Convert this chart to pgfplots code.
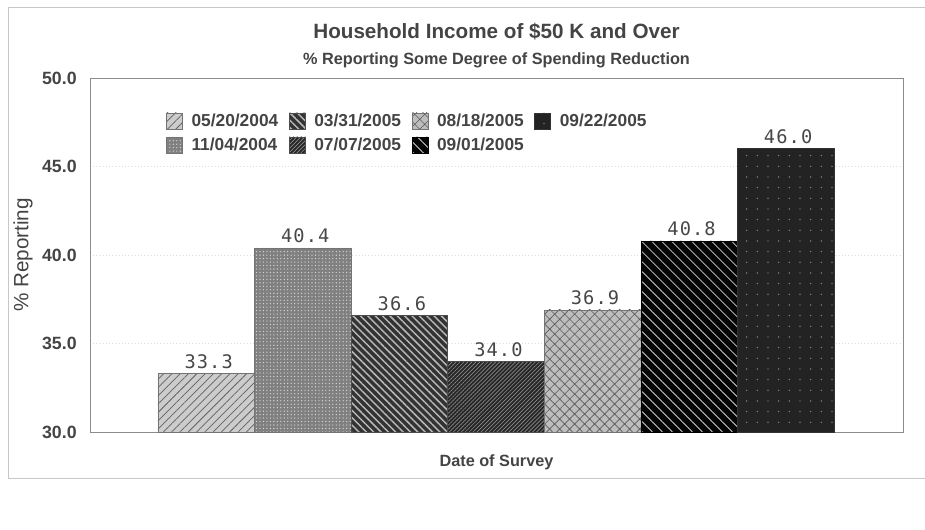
\documentclass[border=0pt]{standalone}
\usepackage{fontspec}
\setmainfont{Liberation Sans}
\newfontfamily\valfont[LetterSpace=6]{DejaVu Sans Mono}
\usepackage{pgfplots}
\pgfplotsset{compat=1.18}
\usetikzlibrary{patterns.meta}
\definecolor{txt}{HTML}{444444}
\definecolor{c1}{HTML}{CCCCCC}
\definecolor{c2}{HTML}{808080}
\definecolor{c3}{HTML}{333333}
\definecolor{c4}{HTML}{262626}
\definecolor{c5}{HTML}{BDBDBD}
\definecolor{c6}{HTML}{050505}
\definecolor{c7}{HTML}{232323}
\pgfplotsset{
  sqlegend/.style={legend image code/.code={\draw[##1] (0pt,-6pt) rectangle (12pt,6pt); \path (16.5pt,0pt);}},
  s1/.style={fill=c1, draw=black!55, line width=0.5pt, postaction={pattern={Lines[angle=45,distance=4.4pt,line width=0.55pt]}, pattern color=black!62}},
  s2/.style={fill=c2, draw=black!55, line width=0.5pt, postaction={pattern={Dots[distance=2.6pt,radius=0.5pt]}, pattern color=black!15}},
  s3/.style={fill=c3, draw=black!70, line width=0.5pt, postaction={pattern={Lines[angle=-45,distance=3.9pt,line width=1.1pt]}, pattern color=black!28}},
  s4/.style={fill=c4, draw=black!70, line width=0.5pt, postaction={pattern={Lines[angle=45,distance=2.1pt,line width=0.5pt]}, pattern color=black!45}},
  s5/.style={fill=c5, draw=black!55, line width=0.5pt, postaction={pattern={Hatch[angle=45,distance=5.3pt,line width=0.5pt]}, pattern color=black!65}},
  s6/.style={fill=c6, draw=black, line width=0.5pt, postaction={pattern={Lines[angle=-45,distance=5.3pt,line width=0.6pt]}, pattern color=black!20}},
  s7/.style={fill=c7, draw=black!80, line width=0.5pt, postaction={pattern={Dots[distance=8pt,radius=0.55pt]}, pattern color=black!40}},
}
\begin{document}
\begin{tikzpicture}
\useasboundingbox (0,0) rectangle (693.75pt,396.75pt);
\draw[black!22, line width=0.75pt] (700pt,390.75pt) -- (6pt,390.75pt) -- (6pt,38.25pt) -- (700pt,38.25pt);
\begin{axis}[
  at={(67.5pt,72.75pt)}, anchor=south west,
  width=609.75pt, height=265.5pt, scale only axis,
  xmin=-4.204, xmax=4.214, ymin=30, ymax=50,
  ytick={30,35,40,45,50}, xtick=\empty,
  ybar, bar width=1,
  clip=false,
  axis line style={black!45},
  ymajorgrids, grid style={dotted, black!13, line width=0.7pt},
  major tick length=0pt,
  yticklabel={\pgfmathprintnumber[fixed,fixed zerofill,precision=1,assume math mode=true]{\tick}},
  yticklabel style={font=\fontsize{13.3}{15}\selectfont\bfseries, text=txt, xshift=-6.5pt},
  ylabel={\% Reporting},
  ylabel style={at={(axis description cs:-0.0824,0.5)}, anchor=center, font=\fontsize{15.5}{18}\selectfont, text=txt},
  xlabel={Date of Survey},
  xlabel style={at={(axis description cs:0.5,-0.0847)}, anchor=center, font=\fontsize{12.2}{14}\selectfont\bfseries, text=txt},
  title={Household Income of \$50 K and Over},
  title style={at={(axis description cs:0.5,1.089)}, anchor=base, font=\fontsize{15.5}{18}\selectfont\bfseries, text=txt},
  nodes near coords={\pgfmathprintnumber[fixed,fixed zerofill,precision=1,assume math mode=true]{\pgfplotspointmeta}},
  nodes near coords style={font=\valfont\fontsize{14}{16}\selectfont, text=black!72, xshift=1.8pt},
  legend style={draw=none, fill=none, at={(axis description cs:0.0885,0.915)}, anchor=north west,
    font=\fontsize{13}{15}\selectfont\bfseries, text=txt,
    /tikz/every even column/.append style={column sep=6pt}, row sep=3pt},
  legend columns=4, legend cell align=left,
]
\addplot[s1, bar shift=0pt, forget plot] coordinates {(-3,33.3)};
\addplot[s2, bar shift=0pt, forget plot] coordinates {(-2,40.4)};
\addplot[s3, bar shift=0pt, forget plot] coordinates {(-1,36.6)};
\addplot[s4, bar shift=0pt, forget plot] coordinates {(0,34.0)};
\addplot[s5, bar shift=0pt, forget plot] coordinates {(1,36.9)};
\addplot[s6, bar shift=0pt, forget plot] coordinates {(2,40.8)};
\addplot[s7, bar shift=0pt, forget plot] coordinates {(3,46.0)};
\addlegendimage{s1, sqlegend}\addlegendentry{05/20/2004}
\addlegendimage{s3, sqlegend}\addlegendentry{03/31/2005}
\addlegendimage{s5, sqlegend}\addlegendentry{08/18/2005}
\addlegendimage{s7, sqlegend}\addlegendentry{09/22/2005}
\addlegendimage{s2, sqlegend}\addlegendentry{11/04/2004}
\addlegendimage{s4, sqlegend}\addlegendentry{07/07/2005}
\addlegendimage{s6, sqlegend}\addlegendentry{09/01/2005}
\node[anchor=base, font=\fontsize{12.2}{14}\selectfont\bfseries, text=txt] at (axis description cs:0.5,1.0395) {\% Reporting Some Degree of Spending Reduction};
\end{axis}
\end{tikzpicture}
\end{document}
